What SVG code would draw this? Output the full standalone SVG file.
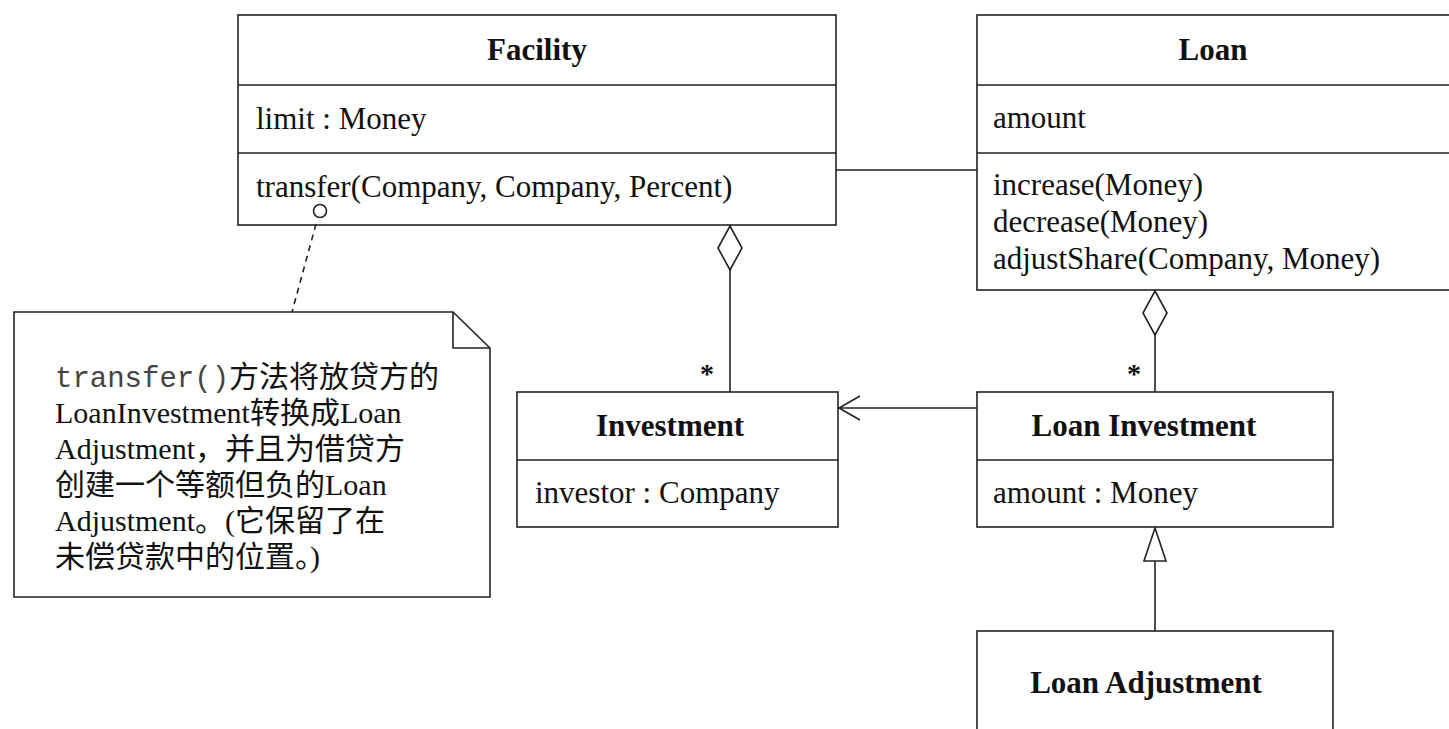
<svg xmlns="http://www.w3.org/2000/svg" width="1449" height="729" viewBox="0 0 1449 729">
<defs>
<style>
.box{fill:#fff;stroke:#222;stroke-width:1.6}
.ln{stroke:#222;stroke-width:1.6;fill:none}
.t{font-family:"Liberation Serif","Noto Sans CJK SC",serif;font-size:31px;fill:#111}
.n{font-family:"Liberation Serif","Noto Sans CJK SC",serif;font-size:30px;fill:#111}
.b{font-weight:bold;text-anchor:middle}
.m{font-family:"Liberation Mono",monospace;font-size:29px;fill:#444}
.s{font-family:"Liberation Serif",serif;font-size:28px;font-weight:bold;fill:#111}
</style>
</defs>
<g id="facility">
<rect class="box" x="238" y="15" width="598" height="210"/>
<line class="ln" x1="238" y1="85" x2="836" y2="85"/>
<line class="ln" x1="238" y1="153" x2="836" y2="153"/>
<text class="t b" x="537" y="60">Facility</text>
<text class="t" x="256" y="129">limit : Money</text>
<text class="t" x="256" y="197">transfer(Company, Company, Percent)</text>
</g>
<g id="loan">
<rect class="box" x="977" y="15" width="490" height="275"/>
<line class="ln" x1="977" y1="85" x2="1467" y2="85"/>
<line class="ln" x1="977" y1="153" x2="1467" y2="153"/>
<text class="t b" x="1213" y="60">Loan</text>
<text class="t" x="993" y="128">amount</text>
<text class="t" x="993" y="195">increase(Money)</text>
<text class="t" x="993" y="232">decrease(Money)</text>
<text class="t" x="993" y="269">adjustShare(Company, Money)</text>
</g>
<g id="investment">
<rect class="box" x="517" y="392" width="321" height="135"/>
<line class="ln" x1="517" y1="460" x2="838" y2="460"/>
<text class="t b" x="670" y="436">Investment</text>
<text class="t" x="535" y="503">investor : Company</text>
</g>
<g id="loanInvestment">
<rect class="box" x="977" y="392" width="356" height="135"/>
<line class="ln" x1="977" y1="460" x2="1333" y2="460"/>
<text class="t b" x="1144" y="436">Loan Investment</text>
<text class="t" x="993" y="503">amount : Money</text>
</g>
<g id="loanAdjustment">
<rect class="box" x="977" y="631" width="356" height="120"/>
<text class="t b" x="1146" y="693">Loan Adjustment</text>
</g>
<g id="note">
<path class="box" d="M14,312 L453,312 L490,348 L490,597 L14,597 Z"/>
<path class="ln" d="M453,312 L453,348 L490,348"/>
<text x="55" y="387"><tspan class="m">transfer()</tspan><tspan class="n">方法将放贷方的</tspan></text>
<text class="n" x="55" y="423">LoanInvestment转换成Loan</text>
<text class="n" x="55" y="459">Adjustment，并且为借贷方</text>
<text class="n" x="55" y="495">创建一个等额但负的Loan</text>
<text class="n" x="55" y="531">Adjustment。(它保留了在</text>
<text class="n" x="55" y="567">未偿贷款中的位置。)</text>
</g>
<g id="connectors">
<line class="ln" x1="836" y1="170" x2="977" y2="170"/>
<path class="box" d="M730,226 L742,248 L730,270 L718,248 Z"/>
<line class="ln" x1="730" y1="270" x2="730" y2="392"/>
<path class="box" d="M1155,291 L1167,313 L1155,335 L1143,313 Z"/>
<line class="ln" x1="1155" y1="335" x2="1155" y2="392"/>
<line class="ln" x1="977" y1="408" x2="839" y2="408"/>
<path class="ln" d="M860,396 L839,408 L860,420"/>
<path class="box" d="M1155,528 L1166,561 L1144,561 Z"/>
<line class="ln" x1="1155" y1="561" x2="1155" y2="631"/>
<circle class="box" cx="320" cy="211" r="6.5"/>
<line class="ln" x1="316" y1="224" x2="292" y2="312" stroke-dasharray="6,5"/>
<text class="s" x="700" y="383">*</text>
<text class="s" x="1127" y="383">*</text>
</g>
</svg>
